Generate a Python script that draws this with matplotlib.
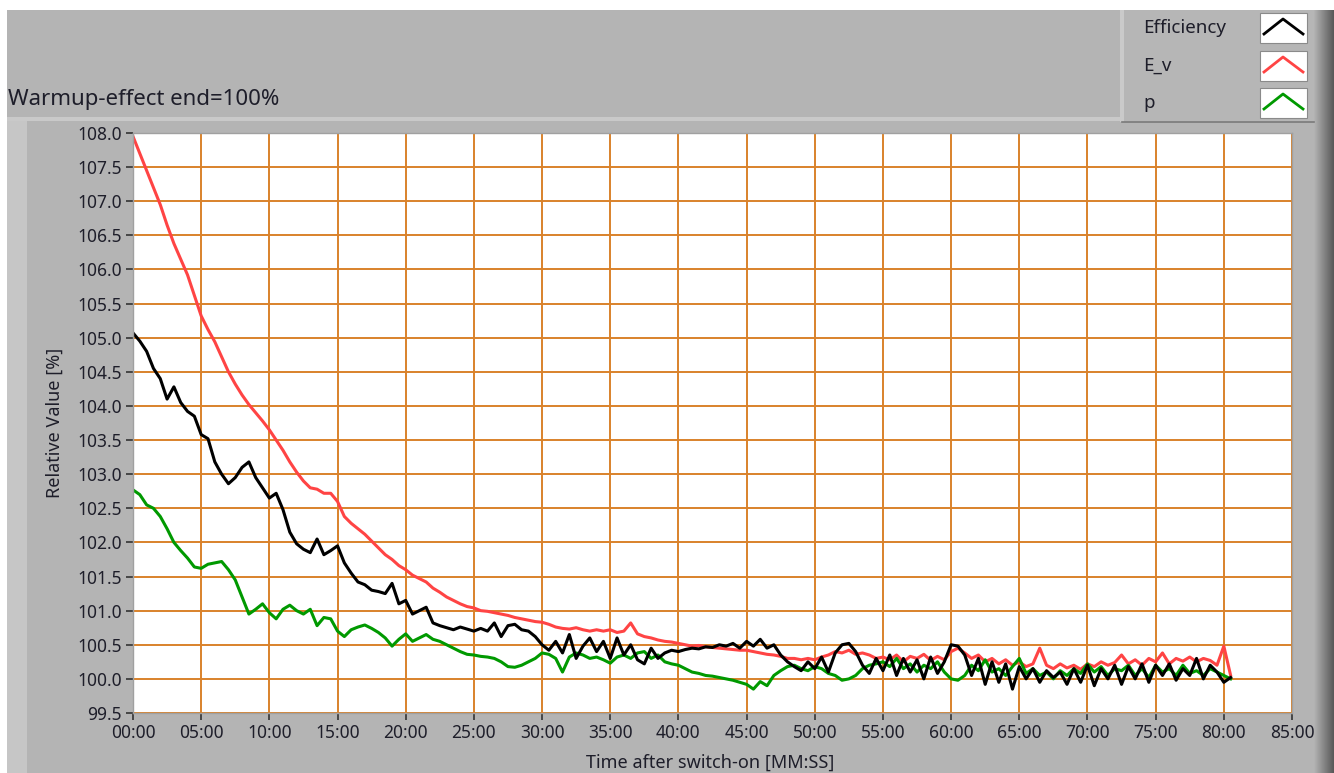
import matplotlib.pyplot as plt
import numpy as np
from matplotlib.patches import Rectangle
from matplotlib.ticker import FuncFormatter, MultipleLocator

plt.rcParams['font.family'] = ['Noto Sans', 'DejaVu Sans']

# sample times in minutes (every 30 s)
minutes = np.arange(0, 81, 0.5)

# E_v (red)
e_v = [
    107.95, 107.7, 107.45, 107.2, 106.95, 106.65, 106.38, 106.15, 105.92, 105.62,
    105.32, 105.12, 104.94, 104.72, 104.5, 104.32, 104.16, 104.02, 103.9, 103.78,
    103.65, 103.5, 103.35, 103.18, 103.03, 102.9, 102.8, 102.78, 102.72, 102.72,
    102.6, 102.38, 102.28, 102.2, 102.12, 102.02, 101.92, 101.82, 101.75, 101.66,
    101.6, 101.52, 101.47, 101.42, 101.33, 101.27, 101.2, 101.15, 101.1, 101.06,
    101.04, 101.0, 100.99, 100.97, 100.95, 100.93, 100.9, 100.88, 100.86, 100.84,
    100.83, 100.8, 100.76, 100.74, 100.73, 100.75, 100.72, 100.7, 100.72, 100.7,
    100.72, 100.68, 100.7, 100.82, 100.66, 100.62, 100.6, 100.57, 100.55, 100.54,
    100.52, 100.5, 100.48, 100.49, 100.47, 100.46, 100.45, 100.44, 100.43, 100.42,
    100.42, 100.4, 100.38, 100.36, 100.35, 100.33, 100.3, 100.3, 100.28, 100.3,
    100.28, 100.32, 100.35, 100.4, 100.38, 100.42, 100.36, 100.38, 100.35, 100.3,
    100.32, 100.28, 100.35, 100.25, 100.33, 100.3, 100.36, 100.27, 100.33, 100.28,
    100.4, 100.45, 100.38, 100.3, 100.35, 100.25, 100.3, 100.22, 100.28, 100.2,
    100.25, 100.18, 100.22, 100.45, 100.2, 100.15, 100.22, 100.16, 100.2, 100.14,
    100.22, 100.18, 100.25, 100.2, 100.24, 100.35, 100.22, 100.28, 100.2, 100.3,
    100.25, 100.38, 100.22, 100.3, 100.26, 100.32, 100.25, 100.3, 100.27, 100.2,
    100.48, 100.05,
]

# Efficiency (black)
efficiency = [
    105.07, 104.95, 104.8, 104.55, 104.4, 104.1, 104.28, 104.05, 103.92, 103.85,
    103.58, 103.52, 103.18, 103.0, 102.86, 102.95, 103.1, 103.18, 102.95, 102.8,
    102.65, 102.72, 102.48, 102.15, 101.98, 101.9, 101.85, 102.05, 101.82, 101.88,
    101.95, 101.7, 101.55, 101.42, 101.38, 101.3, 101.28, 101.25, 101.4, 101.1,
    101.15, 100.95, 101.0, 101.05, 100.82, 100.78, 100.75, 100.72, 100.76, 100.73,
    100.7, 100.74, 100.7, 100.82, 100.62, 100.78, 100.8, 100.72, 100.7, 100.62,
    100.5, 100.42, 100.55, 100.38, 100.65, 100.3, 100.48, 100.6, 100.4, 100.55,
    100.3, 100.6, 100.35, 100.5, 100.28, 100.22, 100.45, 100.3, 100.38, 100.42,
    100.4, 100.43, 100.45, 100.44, 100.47, 100.46, 100.5, 100.48, 100.52, 100.45,
    100.55, 100.48, 100.58, 100.45, 100.5, 100.35, 100.25, 100.18, 100.12, 100.25,
    100.15, 100.32, 100.1, 100.38, 100.5, 100.52, 100.4, 100.2, 100.08, 100.3,
    100.12, 100.35, 100.05, 100.3, 100.1, 100.28, 100.0, 100.32, 100.08, 100.25,
    100.5, 100.48, 100.35, 100.05, 100.3, 99.92, 100.25, 99.95, 100.22, 99.85,
    100.18, 100.0, 100.15, 99.95, 100.12, 100.02, 100.1, 99.92, 100.15, 99.95,
    100.2, 99.9, 100.15, 100.0, 100.2, 99.92, 100.18, 100.0, 100.22, 99.95,
    100.2, 100.05, 100.22, 99.98, 100.15, 100.05, 100.3, 100.0, 100.2, 100.1,
    99.95, 100.02,
]

# p (green)
p_val = [
    102.77, 102.7, 102.55, 102.5, 102.38, 102.2, 102.0, 101.88, 101.77, 101.64,
    101.62, 101.68, 101.7, 101.72, 101.6, 101.45, 101.2, 100.95, 101.02, 101.1,
    100.97, 100.88, 101.02, 101.08, 101.0, 100.95, 101.02, 100.78, 100.9, 100.88,
    100.7, 100.62, 100.72, 100.76, 100.79, 100.74, 100.68, 100.6, 100.48, 100.58,
    100.66, 100.55, 100.6, 100.65, 100.58, 100.55, 100.5, 100.45, 100.4, 100.36,
    100.35, 100.33, 100.32, 100.3, 100.25, 100.18, 100.17, 100.2, 100.25, 100.3,
    100.38, 100.36, 100.3, 100.1, 100.32, 100.38, 100.35, 100.3, 100.32, 100.28,
    100.23, 100.32, 100.35, 100.3, 100.38, 100.4, 100.3, 100.35, 100.25, 100.22,
    100.2, 100.15, 100.1, 100.08, 100.05, 100.04, 100.02, 100.0, 99.98, 99.95,
    99.92, 99.85, 99.96, 99.9, 100.05, 100.12, 100.18, 100.2, 100.15, 100.12,
    100.18, 100.15, 100.08, 100.05, 99.98, 100.0, 100.05, 100.15, 100.2, 100.22,
    100.25, 100.18, 100.3, 100.15, 100.22, 100.1, 100.2, 100.15, 100.25, 100.1,
    100.0, 99.98, 100.05, 100.2, 100.12, 100.28, 100.1, 100.15, 100.05, 100.18,
    100.3, 100.08, 100.15, 100.05, 100.1, 100.0, 100.12, 100.05, 100.15, 100.08,
    100.22, 100.1, 100.18, 100.05, 100.15, 100.12, 100.2, 100.05, 100.15, 100.02,
    100.2, 100.1, 100.15, 100.05, 100.2, 100.08, 100.12, 100.05, 100.15, 100.1,
    100.05, 100.0,
]

names = ['Efficiency', 'E_v', 'p']
colors = ['#000000', '#ff4444', '#009900']
x_ticks = list(range(0, 90, 5))

W, H = 1334, 773
gray = '#b4b4b4'
txt = '#1e1e2a'
fig = plt.figure(figsize=(W / 100, H / 100), dpi=100, facecolor=gray)

# background panel in pixel coordinates
bg = fig.add_axes([0, 0, 1, 1], zorder=0)
bg.set_xlim(0, W)
bg.set_ylim(H, 0)
bg.axis('off')
bg.add_patch(Rectangle((0, 0), W, 10, color='white', lw=0))
bg.add_patch(Rectangle((0, 0), 7, H, color='white', lw=0))
bg.add_patch(Rectangle((7, 117), 1113, 4, color='#c9c9c9', lw=0))
bg.add_patch(Rectangle((7, 121), 20, H, color='#c6c6c6', lw=0))
# right dark edge
grad = np.linspace(0.70, 0.35, 20)[None, :]
bg.imshow(np.repeat(grad[..., None], 3, axis=2), extent=(1314, W, H, 10), aspect='auto')
# legend panel
bg.add_patch(Rectangle((1120, 10), 194, 112, color='#b6b6b6', lw=0))
bg.add_patch(Rectangle((1120, 10), 4, 112, color='#cacaca', lw=0))
bg.plot([1122, 1314], [122, 122], color='#7a7a7a', lw=1.2)

fig.text(8 / W, 1 - 100 / H, 'Warmup-effect end=100%', fontsize=16, color=txt,
         va='center', ha='left')

rows = [28, 66, 103]
for name, col, yy in zip(names, colors, rows):
    fig.text(1143 / W, 1 - yy / H, name, fontsize=13.5, color=txt, va='center', ha='left')
    bg.add_patch(Rectangle((1260, yy - 15), 47, 30, facecolor='white',
                           edgecolor='#8a8a8a', lw=0.8))
    bg.plot([1264, 1283, 1303], [yy + 6, yy - 9, yy + 6], color=col, lw=2)

# main graph
ax = fig.add_axes([133 / W, 1 - 713 / H, (1292 - 133) / W, (713 - 133) / H], zorder=1)
ax.set_facecolor('white')
for vals, col in [(e_v, colors[1]), (p_val, colors[2]), (efficiency, colors[0])]:
    ax.plot(minutes, vals, color=col, lw=2.2)

ax.set_xlim(0, 85)
ax.set_ylim(99.5, 108.0)
ax.set_xticks(x_ticks)
ax.xaxis.set_major_formatter(FuncFormatter(lambda v, pos: '%02d:00' % int(round(v))))
ax.yaxis.set_major_locator(MultipleLocator(0.5))
ax.yaxis.set_major_formatter(FuncFormatter(lambda v, pos: '%.1f' % v))
ax.grid(True, color='#d9822b', lw=1.4)
ax.set_axisbelow(True)
ax.tick_params(axis='both', labelsize=12.5, colors='#333333', labelcolor=txt,
               length=5, width=1.2, direction='out', pad=3)
for s in ax.spines.values():
    s.set_color('#a0a0a0')
    s.set_linewidth(1)

fig.text(55 / W, 1 - 423 / H, 'Relative Value [%]', rotation=90, fontsize=13,
         color=txt, va='center', ha='center')
fig.text(710 / W, 1 - 763 / H, 'Time after switch-on [MM:SS]', fontsize=13,
         color=txt, va='center', ha='center')

fig.savefig('out.png', dpi=100, facecolor=gray)
